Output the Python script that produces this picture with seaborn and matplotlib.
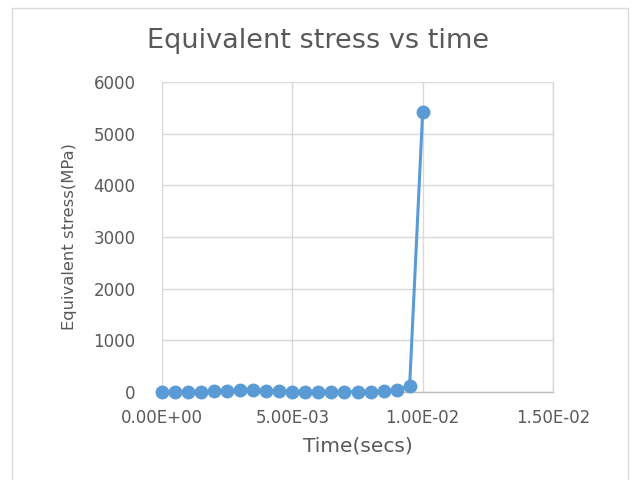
import matplotlib
matplotlib.use("Agg")
import matplotlib.pyplot as plt
import seaborn as sns
import pandas as pd
from matplotlib.patches import Rectangle

time_s = [0.0, 0.0005, 0.001, 0.0015, 0.002, 0.0025, 0.003, 0.0035, 0.004, 0.0045,
          0.005, 0.0055, 0.006, 0.0065, 0.007, 0.0075, 0.008, 0.0085, 0.009, 0.0095, 0.01]
stress_mpa = [0, 5, 5, 5, 10, 15, 35, 45, 20, 10,
              5, 5, 5, 5, 5, 5, 5, 10, 35, 120, 5420]
x_ticks = [0.0, 0.005, 0.01, 0.015]
x_tick_labels = ["0.00E+00", "5.00E-03", "1.00E-02", "1.50E-02"]
y_ticks = [0, 1000, 2000, 3000, 4000, 5000, 6000]

df = pd.DataFrame({"time": time_s, "stress": stress_mpa})

sns.set_theme(style="white")
plt.rcParams["font.family"] = ["DejaVu Sans"]

fig = plt.figure(figsize=(6.32, 4.8), dpi=100)
ax = fig.add_axes([162/632, 1-392/480, (553-162)/632, (392-82)/480])

color = "#5B9BD5"
sns.lineplot(data=df, x="time", y="stress", ax=ax, color=color, linewidth=2.2,
             marker="o", markersize=10, markeredgewidth=0, zorder=3, clip_on=False)

ax.set_xlim(0, 0.015)
ax.set_ylim(0, 6000)
ax.set_xticks(x_ticks)
ax.set_xticklabels(x_tick_labels)
ax.set_yticks(y_ticks)
ax.grid(True, color="#D9D9D9", linewidth=1.0)
ax.set_axisbelow(True)
for s in ["top", "left"]:
    ax.spines[s].set_visible(False)
ax.spines["right"].set_color("#D9D9D9")
ax.spines["right"].set_linewidth(1.0)
ax.spines["bottom"].set_color("#BFBFBF")
ax.spines["bottom"].set_linewidth(1.0)
ax.tick_params(axis="x", length=0, colors="#595959", pad=12, labelsize=12)
ax.tick_params(axis="y", length=0, colors="#595959", pad=19, labelsize=12)

ax.set_xlabel("Time(secs)", fontsize=14.5, color="#595959", labelpad=7)
ax.set_ylabel("Equivalent stress(MPa)", fontsize=11.8, color="#595959", labelpad=12)

fig.text(318/632, 1-41/480, "Equivalent stress vs time", ha="center", va="center",
         fontsize=19.5, color="#595959")

fig.patches.append(Rectangle((12/632, -0.01), (628-12)/632, (480-8)/480 + 0.01,
                             transform=fig.transFigure, fill=False,
                             edgecolor="#D9D9D9", linewidth=1.0))

fig.savefig("out.png", dpi=100, facecolor="white")
